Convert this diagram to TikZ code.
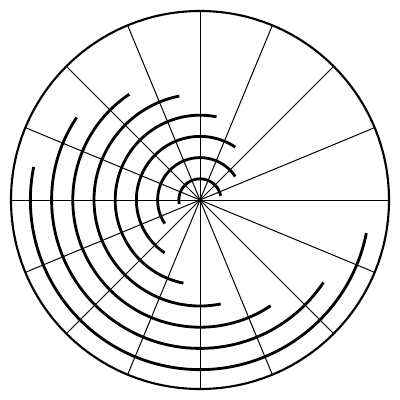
\documentclass[tikz,border=0pt]{standalone}
\usetikzlibrary{math}
\begin{document}
\begin{tikzpicture}[x=0.025cm,y=0.025cm,
    spoke/.style={black, line width=0.7pt},
    rim/.style={black, line width=1.5pt},
    swirl/.style={black, line width=2pt}]
      \tikzmath{
        \rOut = 189;
        \rStep = 21.2;
      }
      \useasboundingbox (-200,-200) rectangle (200,200);
      \coordinate (O) at (0,0);

      % sixteen spokes
      \foreach \a in {0,22.5,...,337.5}
        \draw[spoke] (O) -- (\a:\rOut);

      % half circles, each turned a bit further
      \foreach \k [evaluate=\k as \s using 22.5*\k-11.25,
                   evaluate=\k as \r using \rStep*\k] in {1,...,8}
        \draw[swirl] (\s:\r) arc[start angle=\s, delta angle=180, radius=\r];

      \draw[rim] (O) circle (\rOut);
      \fill[black] (O) circle (2);
    \end{tikzpicture}
\end{document}
